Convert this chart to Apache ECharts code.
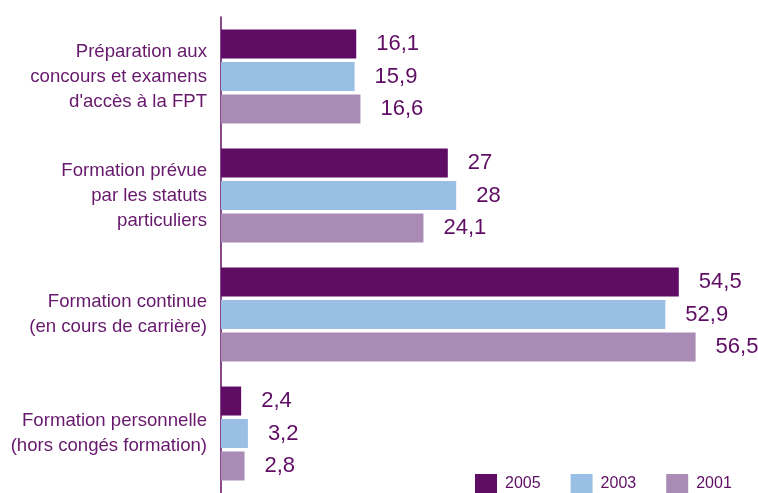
<!DOCTYPE html>
<html>
<head>
<meta charset="utf-8">
<script src="https://cdn.jsdelivr.net/npm/echarts@6/dist/echarts.min.js"></script>
<style>
html,body{margin:0;padding:0;background:#fff;}
#chart{width:758px;height:493px;}
</style>
</head>
<body>
<div id="chart"></div>
<script>
var categories = [
  "Préparation aux\nconcours et examens\nd'accès à la FPT",
  "Formation prévue\npar les statuts\nparticuliers",
  "Formation continue\n(en cours de carrière)",
  "Formation personnelle\n(hors congés formation)"
];
var years = ["2005", "2003", "2001"];
var values2005 = [16.1, 27, 54.5, 2.4];
var values2003 = [15.9, 28, 52.9, 3.2];
var values2001 = [16.6, 24.1, 56.5, 2.8];
var colors = ["#5f0d64", "#99bfe5", "#aa8bb6"];

var purple = "#5f0d64";
var font = "'Liberation Sans', Arial, sans-serif";

function mk(name, data, color) {
  return {
    name: name,
    type: "bar",
    data: data,
    barWidth: 29,
    barGap: "12%",
    itemStyle: { color: color },
    label: {
      show: true,
      position: "right",
      distance: 20,
      color: purple,
      fontSize: 22,
      fontFamily: font,
      formatter: function (p) { return String(p.value).replace(".", ","); }
    }
  };
}

var chart = echarts.init(document.getElementById("chart"));
chart.setOption({
  animation: false,
  backgroundColor: "#fff",
  grid: { left: 221, top: 17, right: 33, bottom: -3, containLabel: false },
  legend: {
    data: years,
    left: 475,
    top: 474,
    padding: 0,
    itemWidth: 22,
    itemHeight: 20,
    itemGap: 30,
    icon: "rect",
    textStyle: { color: purple, fontSize: 16, fontFamily: font, padding: [12, 0, 0, 3] }
  },
  xAxis: {
    type: "value",
    min: 0,
    max: 60,
    show: false
  },
  yAxis: {
    type: "category",
    data: categories,
    inverse: true,
    axisLine: { show: true, lineStyle: { color: purple, width: 1.5 } },
    axisTick: { show: false },
    axisLabel: {
      color: "#66186c",
      fontSize: 18.6,
      lineHeight: 25,
      fontFamily: font,
      margin: 14,
      align: "right"
    }
  },
  series: [
    mk(years[0], values2005, colors[0]),
    mk(years[1], values2003, colors[1]),
    mk(years[2], values2001, colors[2])
  ]
});
</script>
</body>
</html>
